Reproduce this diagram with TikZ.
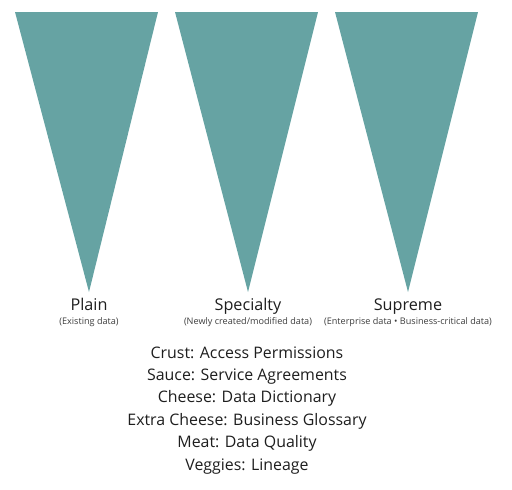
\documentclass[tikz,border=0pt]{standalone}
\usepackage{fontspec}
\setmainfont{Open Sans}
\definecolor{teal1}{RGB}{102,163,163}
\definecolor{txt}{RGB}{30,30,30}
\definecolor{subtxt}{RGB}{60,60,60}
\begin{document}
\begin{tikzpicture}[x=1pt,y=-1pt,
  cone/.style={fill=teal1,draw=none},
  title/.style={anchor=base,inner sep=0pt,text=txt,font=\fontsize{16.2}{19}\selectfont},
  sub/.style={anchor=base,inner sep=0pt,text=subtxt,font=\fontsize{9.1}{11}\selectfont},
  item/.style={anchor=base,inner sep=0pt,text=txt,font=\fontsize{15.9}{19}\selectfont}]
\useasboundingbox (0,0) rectangle (512,490);
\fill[cone] (15,12) -- (158,12) -- (89,292) -- cycle;
\fill[cone] (175,12) -- (318,12) -- (248,292) -- cycle;
\fill[cone] (335,12) -- (478,12) -- (408,292) -- cycle;
\node[title] (plain) at (89,310) {Plain};
\node[title] (spec) at (248,310) {Specialty};
\node[title] (supr) at (408,310) {Supreme};
\node[sub] (plainsub) at (89,324.5) {(Existing data)};
\node[sub] (specsub) at (248,324.5) {(Newly created/modified data)};
\node[sub] (suprsub) at (408,324.5) {(Enterprise data • Business-critical data)};
\node[item] (l1) at (247,358) {Crust: Access Permissions};
\node[item] (l2) at (247,380.4) {Sauce: Service Agreements};
\node[item] (l3) at (247,402.8) {Cheese: Data Dictionary};
\node[item] (l4) at (247,425.2) {Extra Cheese: Business Glossary};
\node[item] (l5) at (247,447.6) {Meat: Data Quality};
\node[item] (l6) at (247,470) {Veggies: Lineage};
\end{tikzpicture}
\end{document}
